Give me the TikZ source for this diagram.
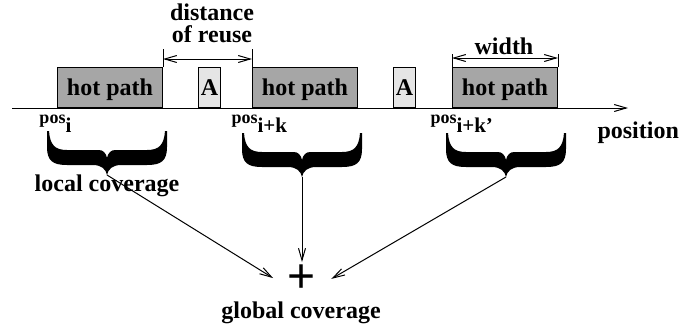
\documentclass[tikz,border=0pt]{standalone}
\usepackage{fontspec}
\setmainfont{Liberation Serif}
\newfontfamily\plusfont{Liberation Sans}
\usetikzlibrary{arrows.meta}
\definecolor{hotgray}{gray}{0.65}
\definecolor{agray}{gray}{0.9}
\newcommand\subidx[1]{\raisebox{-4.5pt}{\fontsize{10.5}{12}\selectfont #1}}
\tikzset{
  lbl/.style={font=\bfseries\fontsize{12}{14}\selectfont, inner sep=0pt},
  posl/.style={font=\bfseries\fontsize{9}{11}\selectfont, inner sep=0pt, anchor=base west},
  hotbox/.style={draw, fill=hotgray, lbl, minimum width=52.5pt, minimum height=20pt,
    text height=8pt, text depth=0pt, anchor=south west},
  abox/.style={hotbox, fill=agray, minimum width=11pt},
  fatbrace/.pic={
    \fill (-60,-44) -- (-60,-28) .. controls (-60,-14) and (-54,-10) .. (-40,-10)
      -- (-14,-10) .. controls (-6,-10) and (-1,-6) .. (0,0)
      .. controls (1,-6) and (6,-10) .. (14,-10) -- (40,-10)
      .. controls (54,-10) and (60,-14) .. (60,-28) -- (60,-44)
      -- (58,-44) .. controls (57,-30) and (52,-25) .. (40,-25) -- (8,-25)
      .. controls (4,-25) and (1,-22) .. (0,-17)
      .. controls (-1,-22) and (-4,-25) .. (-8,-25) -- (-40,-25)
      .. controls (-52,-25) and (-57,-30) .. (-58,-44) -- cycle;
  }
}

\begin{document}
\begin{tikzpicture}[x=0.5pt, y=-0.5pt, line width=0.5pt,
    >={Straight Barb[length=6pt, width=3.5pt]}]
  \useasboundingbox (0,0) rectangle (682,328);

  \coordinate (origin) at (12,108);
  \coordinate (axisend) at (628,108);
  \draw[->] (origin) -- (axisend);

  \node[hotbox] (hp1) at (57,108) {hot path};
  \node[abox] (a1) at (198,108) {A};
  \node[hotbox] (hp2) at (252,108) {hot path};
  \node[abox] (a2) at (393,108) {A};
  \node[hotbox] (hp3) at (452,108) {hot path};

  \draw (hp1.north east) -- ([yshift=9pt]hp1.north east);
  \draw (hp2.north west) -- ([yshift=9pt]hp2.north west);
  \draw[<->] ([yshift=4pt]hp1.north east) -- ([yshift=4pt]hp2.north west);
  \node[lbl, align=center, anchor=north, font=\bfseries\fontsize{12}{11}\selectfont]
    (reuse) at (212,3) {distance\\of reuse};

  \draw (hp3.north west) -- ([yshift=6.5pt]hp3.north west);
  \draw (hp3.north east) -- ([yshift=6.5pt]hp3.north east);
  \draw[<->] ([yshift=4.5pt]hp3.north west) -- ([yshift=4.5pt]hp3.north east);
  \node[lbl, anchor=base] (wid) at (504,54) {width};

  \node[posl] (posi) at (39,123) {pos\subidx{i}};
  \node[posl] (posik) at (231,123) {pos\subidx{i+k}};
  \node[posl] (posikp) at (430,123) {pos\subidx{i+k'}};
  \node[lbl, anchor=base west] (posn) at (597,138) {position};

  \coordinate (tip1) at (107,175);
  \coordinate (tip2) at (302,177);
  \coordinate (tip3) at (506,177);
  \pic at (tip1) {fatbrace};
  \pic at (tip2) {fatbrace};
  \pic at (tip3) {fatbrace};
  \node[lbl, anchor=base] (local) at (107,191) {local coverage};

  \coordinate (sum) at (302,296);
  \node[font=\plusfont\fontsize{24}{24}\selectfont, inner sep=0pt] (plus) at (302,279) {+};
  \draw[->, shorten >=17pt] (tip1) -- (sum);
  \draw[->, shorten >=17pt] (tip2) -- (sum);
  \draw[->, shorten >=17pt] (tip3) -- (sum);
  \node[lbl, anchor=base] (global) at (301,318) {global coverage};
\end{tikzpicture}
\end{document}
